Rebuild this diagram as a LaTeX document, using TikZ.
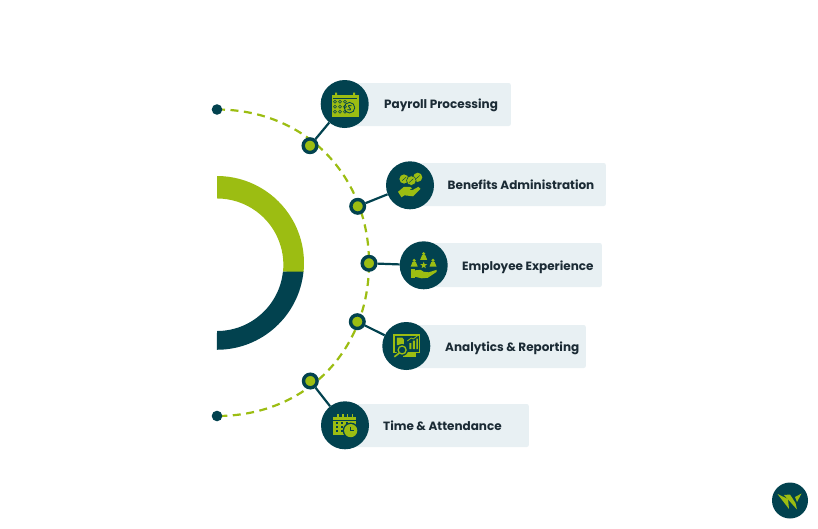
\documentclass[tikz,border=0pt]{standalone}
\usepackage{fontspec}
\setmainfont{Poppins}
\definecolor{tealdark}{HTML}{02424F}
\definecolor{leafgreen}{HTML}{9CBD12}
\definecolor{boxgrey}{HTML}{E8F0F3}
\definecolor{inkdark}{HTML}{1B2B35}
\tikzset{
    labelbox/.style={fill=boxgrey, rounded corners=2pt, minimum height=43pt, inner sep=0pt, anchor=east},
    labeltext/.style={anchor=west, inner sep=0pt, text=inkdark, font=\fontsize{12}{14}\selectfont\bfseries},
    iconnode/.style={circle, fill=tealdark, minimum size=48pt, inner sep=0pt},
    marknode/.style={circle, fill=leafgreen, draw=tealdark, line width=3.4pt, minimum size=13.6pt, inner sep=0pt},
    enddot/.style={circle, fill=tealdark, minimum size=10.6pt, inner sep=0pt},
    spoke/.style={draw=tealdark, line width=2.2pt},
    calbody/.pic={
        \fill[leafgreen] (-13,-9) rectangle (14,13);
        \fill[leafgreen] (-9.5,-11.5) rectangle (-7.5,-8) (8.5,-11.5) rectangle (10.5,-8);
        \draw[tealdark, line width=.6pt] (-11.5,-5.5) -- (12.5,-5.5);
    },
    payicon/.pic={
        \pic {calbody};
        \foreach \dx in {-9.7,-4.7,.3} \foreach \dy in {-2.3,2.7,7.7}
            \draw[tealdark, line width=.6pt] (\dx,\dy) circle (1.5pt);
        \draw[tealdark, line width=.8pt] (4.8,3.7) circle (5.3pt);
        \draw[tealdark, line width=.8pt] (6.8,1.8) .. controls (4.8,.2) and (2.3,1.8) .. (4.8,3.7)
            .. controls (7.3,5.6) and (4.8,7.2) .. (2.8,5.6);
    },
    benefiticon/.pic={
        \fill[leafgreen] (-6,-6.3) circle (4.6pt) (7.7,-8) circle (4.6pt);
        \fill[leafgreen, draw=tealdark, line width=.5pt] (1.3,-4.7) circle (4.8pt);
        \draw[tealdark, line width=.4pt] (-8,-4.5) -- (-4,-8) (5.7,-6.2) -- (9.7,-9.8) (-.7,-2.9) -- (3.3,-6.5);
        \fill[leafgreen] (-12,6.5) -- (-8.5,12) -- (-5.5,10) -- (3,11) -- (10.5,3.5) -- (8.5,1.5)
            -- (3,4.5) -- (-1,5) -- (2,3) -- (0,1.5) -- (-6,1.5) -- cycle;
    },
    personmark/.pic={
        \fill[leafgreen] (0,-2.4) circle (1.7pt);
        \fill[leafgreen] (-1.6,-1) -- (1.6,-1) -- (3.5,3.7) -- (-3.5,3.7) -- cycle;
    },
    staffhand/.pic={
        \pic at (0,-9.2) {personmark};
        \pic at (-9.5,-2.5) {personmark};
        \pic at (9.3,-2.5) {personmark};
        \fill[leafgreen] (0,-3.6) -- (.9,-1.2) -- (3.4,-1.1) -- (1.4,.5) -- (2.1,2.9) -- (0,1.5)
            -- (-2.1,2.9) -- (-1.4,.5) -- (-3.4,-1.1) -- (-.9,-1.2) -- cycle;
        \fill[leafgreen] (-12.7,4) rectangle (-8.5,12.7);
        \fill[leafgreen] (-8.5,5) -- (-3,4.5) -- (0,6.5) -- (5,7) -- (13,4.5) -- (13,6.5) -- (4,12.5)
            -- (-2,13) -- (-8.5,11.5) -- cycle;
    },
    monitoricon/.pic={
        \fill[leafgreen] (-13,-11.7) rectangle (13.7,7.3);
        \fill[leafgreen] (-3,7) rectangle (9.5,10.5);
        \fill[tealdark] (-11.5,-10.2) rectangle (12.2,5.8);
        \fill[leafgreen] (-9.5,-8.5) -- (-4,-8.5) -- (-2.5,-6.5) -- (-2.5,-1) -- (-9.5,-1) -- cycle;
        \fill[leafgreen] (3,-3) rectangle (5,3) (6.5,-5.5) rectangle (8.5,3) (10,-7.5) rectangle (11.6,3);
        \draw[leafgreen, line width=.8pt] (1,-5) -- (5,-8) -- (7,-7) -- (11,-10);
        \fill[tealdark] (-4.2,4) circle (6pt);
        \draw[leafgreen, line width=1.3pt] (-4.2,4) circle (4pt);
        \draw[leafgreen, line width=1.6pt] (-7,7) -- (-12,10.8);
    },
    timeicon/.pic={
        \fill[leafgreen] (-11.7,-8.5) rectangle (10.7,9.7);
        \foreach \dx in {-7.3,-2.3,2.4,7.3}
            \fill[leafgreen] (\dx-.8,-11) rectangle (\dx+.8,-8);
        \draw[tealdark, line width=.6pt] (-11.7,-5.5) -- (10.7,-5.5);
        \foreach \dx in {-8,-3,2} \foreach \dy in {-2.5,1.5,5.5}
            \fill[tealdark] (\dx-1.2,\dy-1) rectangle (\dx+1.2,\dy+1);
        \fill[tealdark] (5.7,5.3) circle (8pt);
        \fill[leafgreen] (5.7,5.3) circle (6.6pt);
        \draw[tealdark, line width=.9pt] (5.7,1.5) -- (5.7,5.5) -- (9,5.5);
    }
}
\begin{document}
\begin{tikzpicture}[x=1pt, y=-1pt]
    \useasboundingbox (0,0) rectangle (818,528);

    % half ring
    \fill[leafgreen] (217,176) arc[start angle=90, end angle=-5.9, radius=87pt]
        -- (283,271.7) arc[start angle=-6, end angle=90, radius=66.3pt] -- cycle;
    \fill[tealdark] (303.5,271.7) arc[start angle=-5.9, end angle=-90, radius=87pt]
        -- (217,331) arc[start angle=-90, end angle=-6, radius=66.3pt] -- cycle;

    % dashed arc, under the dots
    \coordinate (topend) at (217,109.5);
    \coordinate (midpoint) at (369,263.3);
    \coordinate (botend) at (217,416);
    \draw[leafgreen, line width=2.2pt, dash pattern=on 8pt off 5.5pt]
        (topend) .. controls +(88,0) and +(0,-88) .. (midpoint)
        .. controls +(0,88) and +(88,0) .. (botend);
    \node (topdot) [enddot] at (topend) {};
    \node (botdot) [enddot] at (botend) {};

    % label boxes
    \node (payrollbox) [labelbox, minimum width=166pt] at (511,104.5) {};
    \node (benefitbox) [labelbox, minimum width=196pt] at (606,184.5) {};
    \node (employeebox) [labelbox, minimum width=178pt, minimum height=44pt] at (602,265) {};
    \node (analyticbox) [labelbox, minimum width=180pt] at (586,346.5) {};
    \node (timebox) [labelbox, minimum width=184pt] at (529,425.5) {};

    \node (payrollmark) [marknode] at (310,145.7) {};
    \node (benefitmark) [marknode] at (357.7,206.3) {};
    \node (employeemark) [marknode] at (midpoint) {};
    \node (analyticmark) [marknode] at (357.3,321.7) {};
    \node (timemark) [marknode] at (310.3,381) {};

    \node (payroll) [iconnode] at (344.7,104) {};
    \node (benefit) [iconnode] at (410,185.3) {};
    \node (employee) [iconnode] at (423.7,265.3) {};
    \node (analytic) [iconnode] at (406.3,346) {};
    \node (time) [iconnode] at (345,425.3) {};

    \path [spoke]
        (payrollmark) -- (payroll)
        (benefitmark) -- (benefit)
        (employeemark) -- (employee)
        (analyticmark) -- (analytic)
        (timemark) -- (time);

    \pic at (payroll) {payicon};
    \pic at (benefit) {benefiticon};
    \pic at (employee) {staffhand};
    \pic at (analytic) {monitoricon};
    \pic at (time) {timeicon};

    \node (payrolltext) [labeltext] at (384,105.3) {Payroll Processing};
    \node (benefittext) [labeltext] at (447.5,184.5) {Benefits Administration};
    \node (employeetext) [labeltext] at (462,267) {Employee Experience};
    \node (analytictext) [labeltext] at (445,348.5) {Analytics \& Reporting};
    \node (timetext) [labeltext] at (383,425.3) {Time \& Attendance};

    % logo
    \node (logo) [circle, fill=tealdark, minimum size=36pt, inner sep=0pt] at (790,500.5) {};
    \fill[leafgreen] (777.5,494) -- (788,499) -- (789,509) -- cycle;
    \fill[leafgreen] (784,495) -- (797,509.5) -- (795.5,503) -- (790,494.5) -- cycle;
    \fill[leafgreen] (801.5,493.5) -- (795,497) -- (797,502) -- cycle;
\end{tikzpicture}
\end{document}
